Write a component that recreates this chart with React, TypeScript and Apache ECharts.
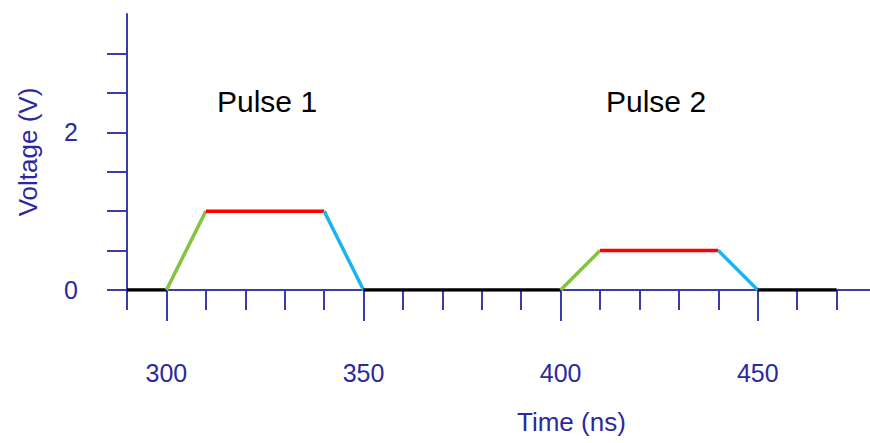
import React, { useEffect, useRef } from "react";
import * as echarts from "echarts";

// Waveform corner points (time in ns, voltage in V)
const times = [290, 300, 310, 340, 350, 400, 410, 440, 450, 470];
const volts = [0, 0, 1, 1, 0, 0, 0.5, 0.5, 0, 0];
// colour of each segment between consecutive points
const segColors = ["#000000", "#84c341", "#ff0000", "#1cb4ea", "#000000", "#84c341", "#ff0000", "#1cb4ea", "#000000"];

const xMajorTicks = [300, 350, 400, 450];
const yLabelValues = [0, 2];
const yTickValues = [0, 0.5, 1, 1.5, 2, 2.5, 3];
const pulseLabels = ["Pulse 1", "Pulse 2"];

const AXIS = "#3c3ca8";
const LABEL = "#2a2a9c";
const FONT = "'Liberation Sans', Arial, sans-serif";

export default function App() {
  const ref = useRef<HTMLDivElement>(null);
  useEffect(() => {
    document.body.style.margin = "0";
    const chart = echarts.init(ref.current!, null, { renderer: "svg" });
    const series: any[] = [];
    for (let i = 0; i < times.length - 1; i++) {
      series.push({
        type: "line",
        xAxisIndex: 0,
        yAxisIndex: 0,
        data: [
          [times[i], volts[i]],
          [times[i + 1], volts[i + 1]],
        ],
        showSymbol: false,
        symbol: "none",
        lineStyle: { color: segColors[i], width: 3.5 },
        z: 5,
        silent: true,
      });
    }
    const option: any = {
      animation: false,
      grid: { left: 127, right: 4, top: 14, bottom: 153, containLabel: false },
      xAxis: [
        {
          type: "value",
          min: 290,
          max: 480,
          interval: 10,
          splitLine: { show: false },
          axisLine: { show: true, lineStyle: { color: AXIS, width: 2 } },
          axisTick: { show: true, length: 20, lineStyle: { color: AXIS, width: 2 } },
          axisLabel: { show: false },
        },
        {
          type: "value",
          position: "bottom",
          min: 290,
          max: 480,
          interval: 10,
          splitLine: { show: false },
          axisLine: { show: false },
          axisTick: {
            show: true,
            length: 31,
            customValues: xMajorTicks,
            lineStyle: { color: AXIS, width: 2 },
          },
          axisLabel: {
            show: true,
            customValues: xMajorTicks,
            margin: 70,
            color: LABEL,
            fontSize: 25,
            fontFamily: FONT,
          },
        },
      ],
      yAxis: {
        type: "value",
        min: 0,
        max: 3.5,
        interval: 0.5,
        splitLine: { show: false },
        axisLine: { show: true, lineStyle: { color: AXIS, width: 2 } },
        axisTick: {
          show: true,
          length: 20,
          customValues: yTickValues,
          lineStyle: { color: AXIS, width: 2 },
        },
        axisLabel: {
          show: true,
          customValues: yLabelValues,
          margin: 49,
          color: LABEL,
          fontSize: 25,
          fontFamily: FONT,
        },
        name: "Voltage (V)",
        nameLocation: "middle",
        nameRotate: 90,
        nameGap: 86,
        nameTextStyle: { color: LABEL, fontSize: 26, fontFamily: FONT },
      },
      graphic: [
        {
          type: "text",
          left: 517,
          top: 409,
          style: { text: "Time (ns)", fill: LABEL, fontSize: 26, fontFamily: FONT },
        },
        {
          type: "text",
          x: 217,
          y: 101,
          style: { text: pulseLabels[0], fill: "#000", fontSize: 30, fontFamily: FONT, verticalAlign: "middle" },
        },
        {
          type: "text",
          x: 606,
          y: 101,
          style: { text: pulseLabels[1], fill: "#000", fontSize: 30, fontFamily: FONT, verticalAlign: "middle" },
        },
      ],
      series,
    };
    chart.setOption(option);
    return () => chart.dispose();
  }, []);
  return (
    <div style={{ width: 870, height: 443, overflow: "hidden", position: "relative" }}>
      <div ref={ref} style={{ width: 880, height: 443 }} />
    </div>
  );
}
